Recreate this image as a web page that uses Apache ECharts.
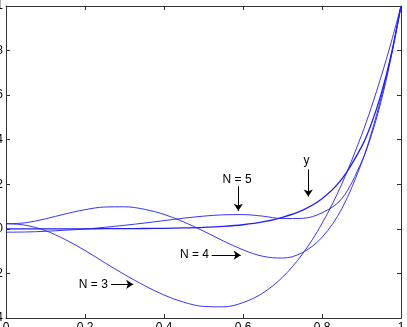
<!DOCTYPE html>
<html>
<head>
<meta charset="utf-8">
<script src="https://cdn.jsdelivr.net/npm/echarts@6/dist/echarts.min.js"></script>
<style>
  html, body { margin: 0; padding: 0; background: #fff; }
  #chart { width: 407px; height: 327px; }
</style>
</head>
<body>
<div id="chart"></div>
<script>
// sample points along x
const xs = [0, 0.05, 0.1, 0.15, 0.2, 0.25, 0.3, 0.35, 0.4, 0.45, 0.5, 0.55, 0.6, 0.65, 0.7, 0.75, 0.8, 0.85, 0.9, 0.925, 0.95, 0.975, 1]

// exact curve y and the N = 3, 4, 5 approximations
const yExact = [0, 0.0001, 0.0001, 0.0002, 0.0003, 0.0006, 0.0009, 0.0015, 0.0025, 0.0041, 0.0067, 0.0111, 0.0185, 0.031, 0.052, 0.083, 0.135, 0.223, 0.368, 0.472, 0.607, 0.779, 1]
const n3 = [0.024, 0.016, -0.008, -0.048, -0.097, -0.152, -0.205, -0.254, -0.297, -0.329, -0.348, -0.350, -0.331, -0.288, -0.217, -0.114, 0.024, 0.201, 0.420, 0.546, 0.685, 0.836, 1]
const n4 = [0.022, 0.0275, 0.045, 0.067, 0.086, 0.098, 0.099, 0.088, 0.065, 0.031, -0.010, -0.054, -0.094, -0.123, -0.131, -0.107, -0.038, 0.090, 0.295, 0.430, 0.591, 0.780, 1]
const n5 = [-0.015, -0.014, -0.011, -0.006, -0.001, 0.007, 0.016, 0.026, 0.037, 0.048, 0.057, 0.063, 0.064, 0.057, 0.046, 0.047, 0.072, 0.135, 0.300, 0.420, 0.575, 0.770, 1]

// tick settings
const xTicks = { min: 0, max: 1, interval: 0.2 }
const yTicks = { min: -0.4, max: 1, interval: 0.2 }

// annotations: text centre and arrow (from -> to), in data units
const noteTexts = ['N = 3', 'N = 4', 'N = 5', 'y']
const notePos = [[0.221, -0.249], [0.477, -0.118], [0.585, 0.2225], [0.761, 0.3065]]
const arrowFrom = [[0.266, -0.249], [0.5207, -0.118], [0.5881, 0.191], [0.7653, 0.267]]
const arrowTo = [[0.322, -0.249], [0.5942, -0.118], [0.5881, 0.081], [0.7653, 0.1447]]

const font = "'Liberation Sans', Arial, Helvetica, sans-serif"
const frame = '#333'
const curveBlue = '#2020f0'

const pairs = arr => xs.map((x, i) => [x, arr[i]])

const chart = echarts.init(document.getElementById('chart'), null, { renderer: 'canvas' })

const axisBase = (extra) => Object.assign({
  type: 'value',
  axisLine: { show: true, onZero: false, lineStyle: { color: frame, width: 1 } },
  axisTick: { show: true, inside: true, length: 4, lineStyle: { color: frame } },
  splitLine: { show: false },
  axisLabel: { show: false }
}, extra)

const curve = (name, arr, width) => ({
  name,
  type: 'line',
  data: pairs(arr),
  smooth: 0.35,
  showSymbol: false,
  lineStyle: { color: curveBlue, width },
  itemStyle: { color: curveBlue },
  silent: true
})

const ySeries = curve('y', yExact, 1.3)
ySeries.markLine = {
  silent: true,
  symbol: ['none', 'arrow'],
  symbolSize: 7,
  label: { show: false },
  lineStyle: { color: '#000', width: 1, type: 'solid' },
  data: arrowFrom.map((p, i) => [{ coord: p }, { coord: arrowTo[i] }])
}
ySeries.markPoint = {
  silent: true,
  symbol: 'circle',
  symbolSize: 1,
  itemStyle: { color: 'rgba(0,0,0,0)' },
  label: {
    show: true, position: 'inside', color: '#000',
    fontSize: 12, fontFamily: font, formatter: p => p.name
  },
  data: noteTexts.map((t, i) => ({ name: t, coord: notePos[i] }))
}

chart.setOption({
  animation: false,
  backgroundColor: '#fff',
  grid: { left: 6, right: 6, top: 6, bottom: 9, containLabel: false, outerBoundsMode: 'none' },
  xAxis: [
    axisBase(Object.assign({ position: 'bottom',
      axisLabel: { show: true, margin: 4, color: '#000', fontSize: 12, fontFamily: font } }, xTicks)),
    axisBase(Object.assign({ position: 'top' }, xTicks))
  ],
  yAxis: [
    axisBase(Object.assign({ position: 'left',
      axisLabel: { show: true, margin: 3, color: '#000', fontSize: 12, fontFamily: font } }, yTicks)),
    axisBase(Object.assign({ position: 'right' }, yTicks))
  ],
  series: [
    ySeries,
    curve('N = 3', n3, 0.9),
    curve('N = 4', n4, 0.9),
    curve('N = 5', n5, 0.9)
  ]
})
</script>
</body>
</html>
